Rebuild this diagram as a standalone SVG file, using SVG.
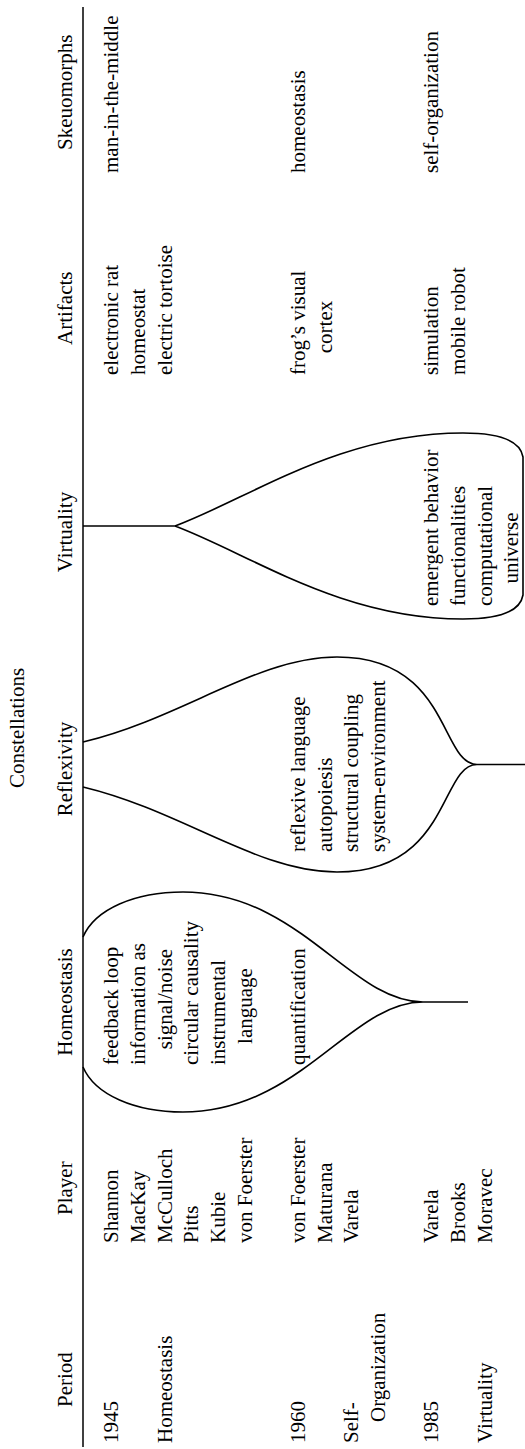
<svg xmlns="http://www.w3.org/2000/svg" width="525" height="1449" viewBox="0 0 525 1449">
<style>
text{font-family:"Liberation Serif","Times New Roman",serif;font-size:21px;fill:#000}
.m{text-anchor:middle}
.ln{fill:none;stroke:#000;stroke-width:1.6}
.rule{fill:none;stroke:#000;stroke-width:1.5}
</style>
<rect x="0" y="0" width="525" height="1449" fill="#fff"/>
<g transform="matrix(0,-1,1,0,0,1449)">
  <g id="connectors">
    <line class="rule" x1="2" y1="83" x2="1442" y2="83"/>
  </g>
  <g id="headers">
    <text x="42" y="72">Period</text>
    <text x="234" y="72">Player</text>
    <text class="m" x="447" y="72">Homeostasis</text>
    <text class="m" x="680" y="72">Reflexivity</text>
    <text class="m" x="721" y="24">Constellations</text>
    <text class="m" x="917" y="72">Virtuality</text>
    <text x="1104" y="72">Artifacts</text>
    <text x="1299" y="72">Skeuomorphs</text>
  </g>
  <g id="period">
    <text x="6" y="118">1945</text>
    <text x="6" y="172">Homeostasis</text>
    <text x="6" y="305">1960</text>
    <text x="6" y="358">Self-</text>
    <text x="27" y="385">Organization</text>
    <text x="6" y="438">1985</text>
    <text x="6" y="492">Virtuality</text>
  </g>
  <g id="player">
    <text x="206" y="118">Shannon</text>
    <text x="206" y="145">MacKay</text>
    <text x="206" y="172">McCulloch</text>
    <text x="206" y="198">Pitts</text>
    <text x="206" y="225">Kubie</text>
    <text x="206" y="252">von Foerster</text>
    <text x="206" y="305">von Foerster</text>
    <text x="206" y="332">Maturana</text>
    <text x="206" y="358">Varela</text>
    <text x="206" y="438">Varela</text>
    <text x="206" y="465">Brooks</text>
    <text x="206" y="492">Moravec</text>
  </g>
  <g id="homeostasis-bulb">
    <path class="ln" d="M512,83 C540,95 557,135 557,183 C557,300 447,350 447,423 C447,350 337,300 337,183 C337,135 354,95 382,83 M447,423 L447,468"/>
    <text x="384" y="118">feedback loop</text>
    <text x="384" y="145">information as</text>
    <text class="m" x="450" y="172">signal/noise</text>
    <text x="384" y="198">circular causality</text>
    <text x="384" y="225">instrumental</text>
    <text class="m" x="443" y="252">language</text>
    <text x="384" y="305">quantification</text>
  </g>
  <g id="reflexivity-bulb">
    <path class="ln" d="M707,83 C731,183 792,257 792,337 C792,450 684.5,440 684.5,477 C684.5,440 577,450 577,337 C577,257 638,183 662,83 M684.5,477 L684.5,525"/>
    <text x="597" y="305">reflexive language</text>
    <text x="597" y="332">autopoiesis</text>
    <text x="597" y="358">structural coupling</text>
    <text x="597" y="385">system-environment</text>
  </g>
  <g id="virtuality-bulb">
    <path class="ln" d="M923,83 L923,175 C951,250 1016,340 1016,463 C1016,495 1010,520 992,523 L854,523 C836,520 830,495 830,463 C830,340 895,250 923,175"/>
    <text x="843" y="438">emergent behavior</text>
    <text x="843" y="465">functionalities</text>
    <text x="843" y="492">computational</text>
    <text class="m" x="901" y="518">universe</text>
  </g>
  <g id="artifacts">
    <text x="1074" y="118">electronic rat</text>
    <text x="1074" y="145">homeostat</text>
    <text x="1074" y="172">electric tortoise</text>
    <text x="1074" y="305">frog’s visual</text>
    <text class="m" x="1122" y="332">cortex</text>
    <text x="1074" y="438">simulation</text>
    <text x="1074" y="465">mobile robot</text>
  </g>
  <g id="skeuomorphs">
    <text x="1276" y="118">man-in-the-middle</text>
    <text x="1276" y="305">homeostasis</text>
    <text x="1276" y="438">self-organization</text>
  </g>
</g>
</svg>
